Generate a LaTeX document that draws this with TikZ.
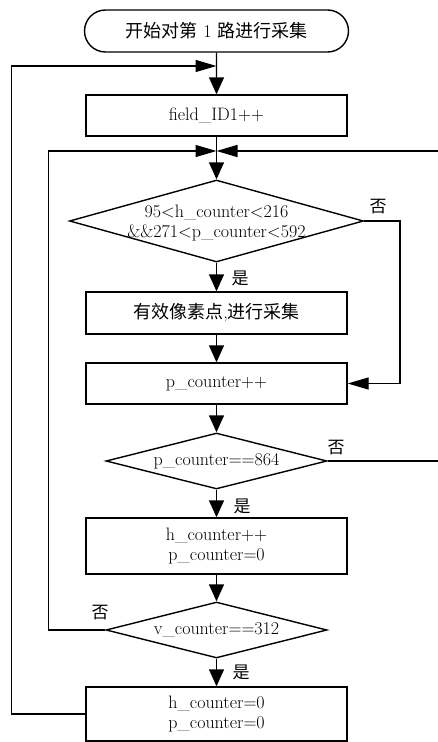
\documentclass[tikz,border=0pt]{standalone}
\usepackage{fontspec}
\newfontfamily\cjk{Noto Sans CJK SC}
\usetikzlibrary{shapes.geometric,shapes.misc,arrows.meta}
\begin{document}
\begin{tikzpicture}[x=1pt,y=-1pt,
  every node/.style={font=\fontsize{18}{20}\selectfont},
  every path/.style={line width=1.4pt},
  procbox/.style={draw,rectangle,minimum width=261pt,inner sep=0pt,align=center},
  decis/.style={draw,diamond,inner sep=0pt},
  termbox/.style={draw,rounded rectangle,minimum width=264pt,minimum height=42pt,inner sep=0pt},
  arrD/.style={-{Triangle[length=17pt,width=15pt]}},
  arrS/.style={-{Triangle[length=21pt,width=12pt]}},
  lbl/.style={inner sep=0pt,font=\fontsize{17}{20}\selectfont\cjk}]
\useasboundingbox (0,0) rectangle (437,742);
\node[termbox] (start) at (216.5,31) {{\cjk 开始对第} 1 {\cjk 路进行采集}};
\coordinate (j1) at (216.5,66);
\node[procbox,minimum height=41pt] (field) at (216.5,115.5) {field\_ID1++};
\coordinate (j2) at (216.5,151);
\node[decis,minimum width=294pt,minimum height=82pt] (d1) at (216.5,221) {};
\node[align=center,inner sep=0pt] (d1t) at (216.5,223) {95<h\_counter<216\\\&\&271<p\_counter<592};
\node[procbox,minimum height=42pt] (b2) at (216.5,313) {{\cjk 有效像素点},{\cjk 进行采集}};
\node[procbox,minimum height=41pt] (b3) at (216.5,383.5) {p\_counter++};
\node[decis,minimum width=221pt,minimum height=56pt] (d2) at (216.5,461) {};
\node[inner sep=0pt] (d2t) at (216.5,461) {p\_counter==864};
\node[procbox,minimum height=56pt] (b4) at (216.5,546) {h\_counter++\\p\_counter=0};
\node[decis,minimum width=221pt,minimum height=56pt] (d3) at (216.5,630) {};
\node[inner sep=0pt] (d3t) at (216.5,630) {v\_counter==312};
\node[procbox,minimum height=54pt] (b5) at (216.5,714) {h\_counter=0\\p\_counter=0};

\node[lbl] (y1) at (240,278) {是};
\node[lbl] (y2) at (242,506) {是};
\node[lbl] (y3) at (241,672) {是};
\node[lbl] (n1) at (378,207) {否};
\node[lbl] (n2) at (336,448) {否};
\node[lbl] (n3) at (100,613) {否};

\draw[arrD] (start) -- (field);
\draw[arrS] (b5.west) -- ++(-74,0) |- (j1);
\draw[arrD] (field) -- (d1);
\draw[arrS] (d3.west) -- ++(-57,0) |- (j2);
\draw[arrS] (d2.east) -- (445,461) |- (j2);
\draw[arrD] (d1) -- (b2);
\draw[arrS] (d1.east) -- (400,221) |- (b3.east);
\draw[arrD] (b2) -- (b3);
\draw[arrD] (b3) -- (d2);
\draw[arrD] (d2) -- (b4);
\draw[arrD] (b4) -- (d3);
\draw[arrD] (d3) -- (b5);
\end{tikzpicture}
\end{document}
